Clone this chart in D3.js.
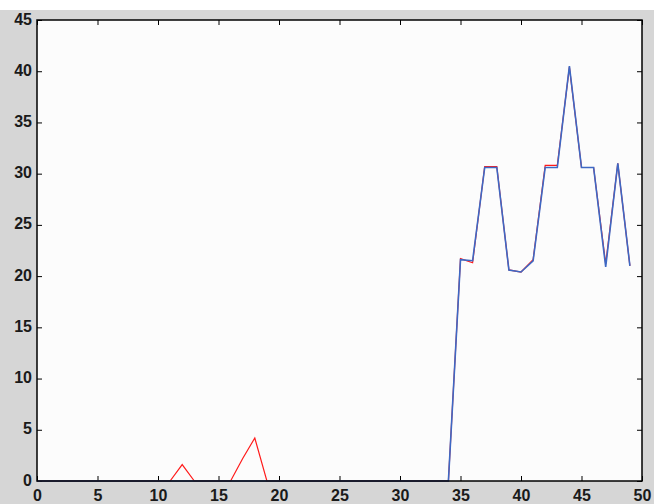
<!DOCTYPE html>
<html>
<head>
<meta charset="utf-8">
<script src="https://cdn.jsdelivr.net/npm/d3@7"></script>
<style>
  html, body { margin: 0; padding: 0; background: #ffffff; }
  svg { display: block; }
</style>
</head>
<body>
<div id="chart-area"></div>
<script>
const xValues = [0, 1, 2, 3, 4, 5, 6, 7, 8, 9, 10, 11, 12, 13, 14, 15, 16, 17, 18, 19,
    20, 21, 22, 23, 24, 25, 26, 27, 28, 29, 30, 31, 32, 33, 34, 35, 36, 37, 38, 39,
    40, 41, 42, 43, 44, 45, 46, 47, 48, 49];

const redValues = [0, 0, 0, 0, 0, 0, 0, 0, 0, 0, 0, 0, 1.6, 0, 0, 0, 0, 2.2, 4.2, 0,
    0, 0, 0, 0, 0, 0, 0, 0, 0, 0, 0, 0, 0, 0, 0, 21.7, 21.3, 30.7, 30.7, 20.6,
    20.4, 21.6, 30.8, 30.8, 40.4, 30.6, 30.6, 21.2, 31.0, 21.0];

const blueValues = [0, 0, 0, 0, 0, 0, 0, 0, 0, 0, 0, 0, 0, 0, 0, 0, 0, 0, 0, 0,
    0, 0, 0, 0, 0, 0, 0, 0, 0, 0, 0, 0, 0, 0, 0, 21.6, 21.5, 30.6, 30.6, 20.6,
    20.4, 21.5, 30.6, 30.6, 40.5, 30.6, 30.6, 20.9, 31.0, 21.0];

const xTicks = [0, 5, 10, 15, 20, 25, 30, 35, 40, 45, 50];
const yTicks = [0, 5, 10, 15, 20, 25, 30, 35, 40, 45];

const svgWidth = 654;
const svgHeight = 504;
const margin = { top: 20, right: 12, bottom: 23, left: 37 };
const width = svgWidth - margin.left - margin.right;
const height = svgHeight - margin.top - margin.bottom;

const root = d3.select("#chart-area")
    .append("svg")
    .attr("width", svgWidth)
    .attr("height", svgHeight);

// grey figure background
root.append("rect")
    .attr("x", 0)
    .attr("y", 10)
    .attr("width", svgWidth)
    .attr("height", svgHeight - 10)
    .attr("fill", "#d6d6d6");

const svg = root.append("g")
    .attr("transform", `translate(${margin.left},${margin.top})`);

const xScale = d3.scaleLinear().domain([0, 50]).range([0, width]);
const yScale = d3.scaleLinear().domain([0, 45]).range([height, 0]);

svg.append("rect")
    .attr("width", width)
    .attr("height", height)
    .attr("fill", "#fcfcfc");

const tickLen = 5;
const fontStyle = sel => sel
    .style("font-family", "'Liberation Sans', Arial, sans-serif")
    .style("font-size", "16px")
    .style("font-weight", "bold")
    .attr("fill", "#1a1a1a");

// bottom axis with inward ticks
const xAxisGroup = svg.append("g")
    .attr("transform", `translate(0,${height})`)
    .call(d3.axisBottom(xScale).tickValues(xTicks).tickSizeInner(-tickLen).tickSizeOuter(0).tickPadding(9));
xAxisGroup.select(".domain").remove();
xAxisGroup.selectAll("line").attr("stroke", "#000");
xAxisGroup.selectAll("text").call(fontStyle);

const yAxisGroup = svg.append("g")
    .call(d3.axisLeft(yScale).tickValues(yTicks).tickSizeInner(-tickLen).tickSizeOuter(0).tickPadding(5));
yAxisGroup.select(".domain").remove();
yAxisGroup.selectAll("line").attr("stroke", "#000");
yAxisGroup.selectAll("text").call(fontStyle).attr("dy", "0.25em");

// top and right ticks, no labels
const xTopGroup = svg.append("g")
    .call(d3.axisTop(xScale).tickValues(xTicks).tickSizeInner(-tickLen).tickSizeOuter(0).tickFormat(""));
xTopGroup.select(".domain").remove();
xTopGroup.selectAll("line").attr("stroke", "#000");

const yRightGroup = svg.append("g")
    .attr("transform", `translate(${width},0)`)
    .call(d3.axisRight(yScale).tickValues(yTicks).tickSizeInner(-tickLen).tickSizeOuter(0).tickFormat(""));
yRightGroup.select(".domain").remove();
yRightGroup.selectAll("line").attr("stroke", "#000");

const line = d3.line()
    .x(d => xScale(d.x))
    .y(d => yScale(d.y));

const redData = xValues.map((x, i) => ({ x, y: redValues[i] }));
const blueData = xValues.map((x, i) => ({ x, y: blueValues[i] }));

svg.append("path")
    .datum(redData)
    .attr("fill", "none")
    .attr("stroke", "#ff1a1a")
    .attr("stroke-width", 1.2)
    .attr("d", line);

svg.append("path")
    .datum(blueData)
    .attr("fill", "none")
    .attr("stroke", "#3d68c4")
    .attr("stroke-width", 1.6)
    .attr("d", line);

// axes box
svg.append("rect")
    .attr("width", width)
    .attr("height", height)
    .attr("fill", "none")
    .attr("stroke", "#000")
    .attr("stroke-width", 1.5);
</script>
</body>
</html>
